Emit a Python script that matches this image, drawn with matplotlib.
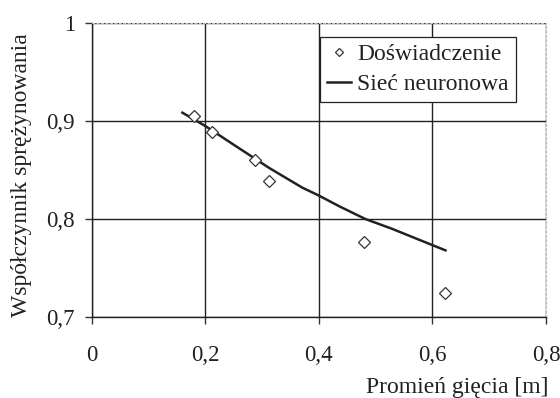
import matplotlib
matplotlib.use("Agg")
import matplotlib.pyplot as plt

# Data
exp_x = [0.180, 0.212, 0.287, 0.312, 0.479, 0.623]
exp_y = [0.905, 0.889, 0.860, 0.839, 0.777, 0.725]

nn_x = [0.160, 0.200, 0.255, 0.313, 0.371, 0.400, 0.436, 0.482, 0.529, 0.593, 0.623]
nn_y = [0.9085, 0.895, 0.874, 0.852, 0.832, 0.824, 0.813, 0.800, 0.790, 0.775, 0.768]

x_ticks = [0, 0.2, 0.4, 0.6, 0.8]
x_tick_labels = ["0", "0,2", "0,4", "0,6", "0,8"]
y_ticks = [0.7, 0.8, 0.9, 1.0]
y_tick_labels = ["0,7", "0,8", "0,9", "1"]

plt.rcParams['font.family'] = ['Liberation Serif', 'DejaVu Serif']
TXT = '#222222'

fig = plt.figure(figsize=(5.6, 3.98), dpi=100)
ax = fig.add_axes([91.5/560, 1-317/398, (546-91.5)/560, (317-23)/398])

ax.plot(nn_x, nn_y, color='#222222', lw=1.8, label='Sieć neuronowa', zorder=3)
ax.plot(exp_x, exp_y, linestyle='none', marker='D', markersize=6.5,
        markerfacecolor='white', markeredgecolor='#333333', markeredgewidth=0.9,
        label='Doświadczenie', zorder=4)

ax.set_xlim(0, 0.8)
ax.set_ylim(0.7, 1.0)
ax.set_xticks(x_ticks)
ax.set_xticklabels(x_tick_labels, fontsize=16.5, color=TXT)
ax.set_yticks(y_ticks)
ax.set_yticklabels(y_tick_labels, fontsize=16.5, color=TXT)
ax.grid(True, color='#222222', lw=1.0)
ax.set_axisbelow(True)

ax.tick_params(axis='both', direction='out', length=5, width=1, color='#333333')
ax.tick_params(axis='x', pad=15)
ax.tick_params(axis='y', pad=7)

for s in ['top', 'right']:
    ax.spines[s].set_color('#bbbbbb')
    ax.spines[s].set_linestyle((0, (2, 2)))
    ax.spines[s].set_linewidth(0.8)
for s in ['left', 'bottom']:
    ax.spines[s].set_color('#222222')
    ax.spines[s].set_linewidth(1.0)

ax.set_ylabel('Współczynnik sprężynowania', fontsize=17, color=TXT)
ax.yaxis.set_label_coords(-0.13, 0.483)
fig.text(548/560, 1-393/398, 'Promień gięcia [m]', fontsize=17, ha='right',
         va='baseline', color=TXT)

handles, labels = ax.get_legend_handles_labels()
leg = ax.legend(handles[::-1], labels[::-1], loc='upper right',
                bbox_to_anchor=((515.5-91.5)/454.5, 1-(36.5-23)/294),
                fontsize=17, frameon=True, fancybox=False, framealpha=1,
                edgecolor='#222222', handlelength=1.0, handletextpad=0.25,
                borderpad=0.3, labelspacing=0.35, borderaxespad=0,
                markerscale=0.7, labelcolor=TXT)
leg.get_frame().set_linewidth(0.9)

fig.savefig('out.png', dpi=100)
